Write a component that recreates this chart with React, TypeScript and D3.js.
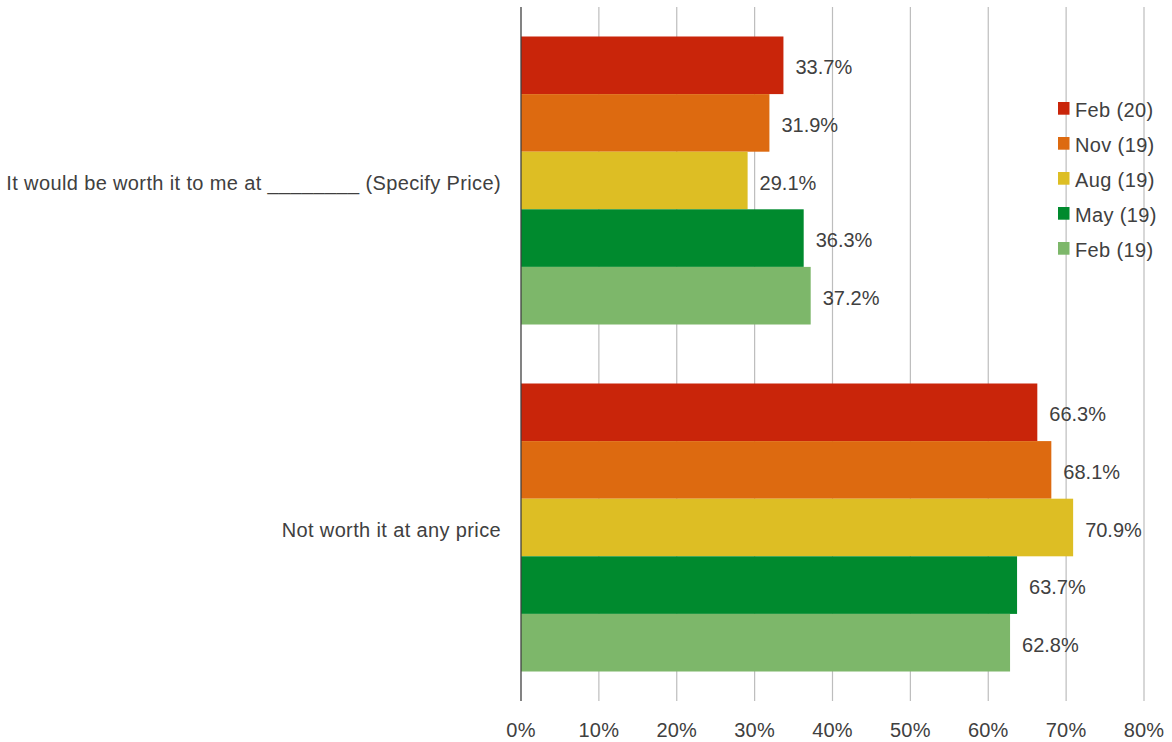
import React from "react";
import * as d3 from "d3";

const categories = [
  "It would be worth it to me at ________ (Specify Price)",
  "Not worth it at any price",
];
const seriesNames = ["Feb (20)", "Nov (19)", "Aug (19)", "May (19)", "Feb (19)"];
const seriesColors = ["#C9250A", "#DD6A10", "#DDBE24", "#008A2E", "#7DB76A"];
const feb20 = [33.7, 66.3];
const nov19 = [31.9, 68.1];
const aug19 = [29.1, 70.9];
const may19 = [36.3, 63.7];
const feb19 = [37.2, 62.8];
const seriesValues = [feb20, nov19, aug19, may19, feb19];
const xTicks = [0, 10, 20, 30, 40, 50, 60, 70, 80];

const W = 1172;
const H = 742;
const FONT = "'Liberation Sans', Arial, sans-serif";
const TEXT = "#404040";

export default function App() {
  const left = 521;
  const right = 1144;
  const top = 7;
  const bottom = 701;
  const x = d3.scaleLinear().domain([0, 80]).range([left, right]);
  const y0 = d3
    .scaleBand<string>()
    .domain(categories)
    .range([top, bottom])
    .paddingInner(0.17)
    .paddingOuter(0.085);
  const y1 = d3
    .scaleBand<string>()
    .domain(seriesNames)
    .range([0, y0.bandwidth()]);

  return (
    <svg
      width={W}
      height={H}
      style={{ position: "absolute", left: 0, top: 0 }}
      fontFamily={FONT}
    >
      <rect width={W} height={H} fill="#fff" />
      {xTicks.slice(1).map((t) => (
        <line
          key={t}
          x1={x(t)}
          x2={x(t)}
          y1={top}
          y2={bottom}
          stroke="#BDBDBD"
          strokeWidth={1.2}
        />
      ))}
      {categories.map((c, ci) => (
        <g key={c}>
          {seriesNames.map((s, si) => {
            const v = seriesValues[si][ci];
            const yy = (y0(c) ?? 0) + (y1(s) ?? 0);
            return (
              <g key={s}>
                <rect
                  x={x(0)}
                  y={yy}
                  width={x(v) - x(0)}
                  height={y1.bandwidth()}
                  fill={seriesColors[si]}
                />
                <text
                  x={x(v) + 12}
                  y={yy + y1.bandwidth() / 2}
                  dy="0.45em"
                  fontSize={20}
                  fill={TEXT}
                >
                  {v.toFixed(1)}%
                </text>
              </g>
            );
          })}
          <text
            x={left - 20}
            y={(y0(c) ?? 0) + y0.bandwidth() / 2}
            dy="0.47em"
            textAnchor="end"
            fontSize={20}
            letterSpacing={0.37}
            fill={TEXT}
          >
            {c}
          </text>
        </g>
      ))}
      <line x1={left} x2={left} y1={top} y2={bottom} stroke="#404040" strokeWidth={1.3} />
      {xTicks.map((t) => (
        <text
          key={t}
          x={x(t)}
          y={737}
          textAnchor="middle"
          fontSize={20}
          letterSpacing={0.2}
          fill={TEXT}
        >
          {t}%
        </text>
      ))}
      {seriesNames.map((s, i) => (
        <g key={s} transform={`translate(1058, ${102 + i * 35})`}>
          <rect x={0} y={0} width={11.5} height={12.7} fill={seriesColors[i]} />
          <text x={17} y={14.6} fontSize={20} letterSpacing={0.37} fill={TEXT}>
            {s}
          </text>
        </g>
      ))}
    </svg>
  );
}
